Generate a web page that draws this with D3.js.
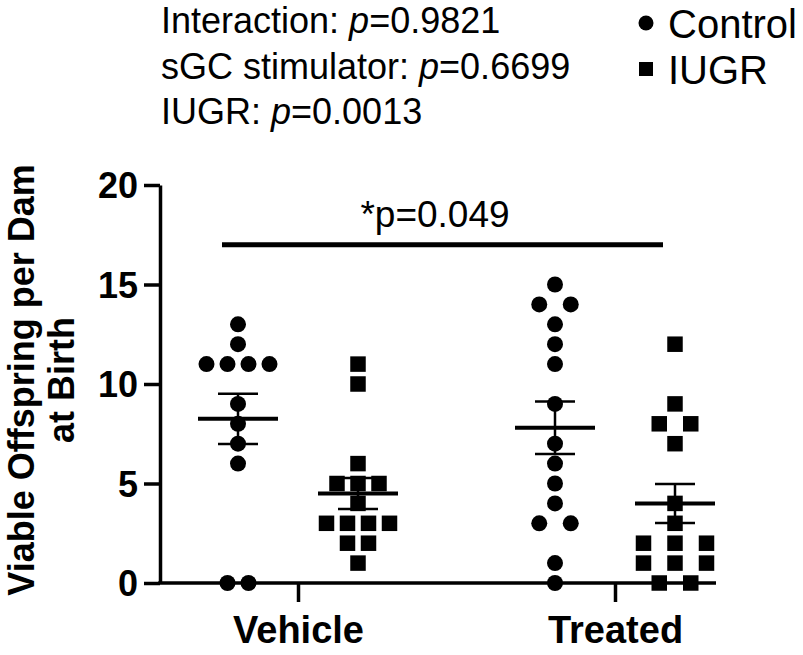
<!DOCTYPE html>
<html><head><meta charset="utf-8">
<script src="https://cdn.jsdelivr.net/npm/d3@7"></script>
<style>body{margin:0;background:#fff}svg{display:block}text{font-family:"Liberation Sans",Arial,sans-serif;fill:#000}</style>
</head><body><svg id="c" width="803" height="655"></svg>
<script>
const categories = ["Vehicle", "Treated"];
const groups = ["Control", "IUGR"];
const vehicleControl = [13, 12, 11, 11, 11, 11, 9, 8, 7, 6, 0, 0];
const vehicleIUGR = [11, 10, 6, 5, 5, 5, 4, 3, 3, 3, 3, 2, 2, 1];
const treatedControl = [15, 14, 14, 13, 12, 11, 9, 7, 6, 5, 4, 3, 3, 1, 0];
const treatedIUGR = [12, 9, 8, 8, 7, 4, 3, 2, 2, 2, 1, 1, 1, 0, 0];
const yTicks = [0, 5, 10, 15, 20];
const statsLines = [["Interaction: ", "0.9821"], ["sGC stimulator: ", "0.6699"], ["IUGR: ", "0.0013"]];
const sigLabel = "*p=0.049";
const sigValue = 17;

const series = [
  {cat: "Vehicle", grp: "Control", values: vehicleControl},
  {cat: "Vehicle", grp: "IUGR", values: vehicleIUGR},
  {cat: "Treated", grp: "Control", values: treatedControl},
  {cat: "Treated", grp: "IUGR", values: treatedIUGR}
];
const spread = {Vehicle: 21, Treated: 31.5};

const svg = d3.select("#c");
const axL = 160, axR = 716;
const y = d3.scaleLinear().domain([0, 20]).range([583, 185]);
const x = d3.scalePoint().domain(categories).range([298, 615]);
const xs = d3.scalePoint().domain(groups).range([-60, 60]);

// y axis
const ya = svg.append("g").attr("transform", `translate(${axL},0)`)
  .call(d3.axisLeft(y).tickValues(yTicks).tickSize(16).tickSizeOuter(0).tickPadding(6));
ya.select(".domain").attr("stroke", "#000").attr("stroke-width", 3.5);
ya.selectAll(".tick line").attr("stroke", "#000").attr("stroke-width", 3.5);
ya.selectAll(".tick text").attr("font-size", 36).attr("font-weight", "bold")
  .attr("font-family", "Liberation Sans, Arial").attr("fill", "#000").attr("dy", "0.36em");

// x axis
svg.append("line").attr("x1", axL - 1.75).attr("x2", axR).attr("y1", y(0)).attr("y2", y(0))
  .attr("stroke", "#000").attr("stroke-width", 3.5);
const xa = svg.append("g").attr("transform", `translate(0,${y(0)})`)
  .call(d3.axisBottom(x).tickSize(19).tickSizeOuter(0).tickPadding(14));
xa.select(".domain").remove();
xa.selectAll(".tick line").attr("stroke", "#000").attr("stroke-width", 3.5);
xa.selectAll(".tick text").attr("font-size", 38).attr("font-weight", "bold")
  .attr("font-family", "Liberation Sans, Arial").attr("fill", "#000");

// y label
const yl = svg.append("text").attr("transform", `translate(0,380) rotate(-90)`)
  .attr("text-anchor", "middle").attr("font-size", 36).attr("font-weight", "bold");
yl.append("tspan").attr("x", 0).attr("y", 34).text("Viable Offspring per Dam");
yl.append("tspan").attr("x", 0).attr("y", 74).text("at Birth");

// points
const sym = {Control: d3.symbolCircle, IUGR: d3.symbolSquare};
const symSize = {Control: Math.PI * 8 * 8, IUGR: 15.5 * 15.5};
series.forEach(s => {
  const cx = x(s.cat) + xs(s.grp);
  const counts = d3.rollup(s.values, v => v.length, d => d);
  const seen = new Map();
  const pts = s.values.map(v => {
    const n = counts.get(v), i = seen.get(v) || 0; seen.set(v, i + 1);
    return {v, px: cx + (i - (n - 1) / 2) * spread[s.cat]};
  });
  svg.append("g").selectAll("path").data(pts).join("path")
    .attr("d", d3.symbol(sym[s.grp], symSize[s.grp]))
    .attr("transform", d => `translate(${d.px},${y(d.v)})`).attr("fill", "#000");
  const m = d3.mean(s.values);
  const sem = d3.deviation(s.values) / Math.sqrt(s.values.length);
  const g = svg.append("g").attr("stroke", "#000");
  g.append("line").attr("x1", cx).attr("x2", cx).attr("y1", y(m + sem)).attr("y2", y(m - sem)).attr("stroke-width", 2.5);
  g.append("line").attr("x1", cx - 40).attr("x2", cx + 40).attr("y1", y(m)).attr("y2", y(m)).attr("stroke-width", 4);
  [m + sem, m - sem].forEach(e => g.append("line").attr("x1", cx - 20).attr("x2", cx + 20).attr("y1", y(e)).attr("y2", y(e)).attr("stroke-width", 2.5));
});

// significance bar
const bx1 = x("Vehicle") + xs("Control") - 16, bx2 = x("Treated") + xs("IUGR") - 12;
svg.append("line").attr("x1", bx1).attr("x2", bx2).attr("y1", y(sigValue)).attr("y2", y(sigValue))
  .attr("stroke", "#000").attr("stroke-width", 5);
svg.append("text").attr("x", 435).attr("y", 227).attr("text-anchor", "middle").attr("font-size", 37).text(sigLabel);

// stats text
statsLines.forEach((l, i) => {
  const t = svg.append("text").attr("x", 161).attr("y", 33 + i * 45.5).attr("font-size", 36);
  t.append("tspan").text(l[0]);
  t.append("tspan").attr("font-style", "italic").text("p");
  t.append("tspan").text("=" + l[1]);
});

// legend
const leg = [{g: "Control", y: 23}, {g: "IUGR", y: 69}];
leg.forEach(d => {
  svg.append("path").attr("d", d3.symbol(sym[d.g], d.g === "Control" ? Math.PI * 7.5 * 7.5 : 14 * 14))
    .attr("transform", `translate(646,${d.y})`).attr("fill", "#000");
  svg.append("text").attr("x", 668).attr("y", d.y + 15).attr("font-size", 40).text(d.g);
});
</script></body></html>
